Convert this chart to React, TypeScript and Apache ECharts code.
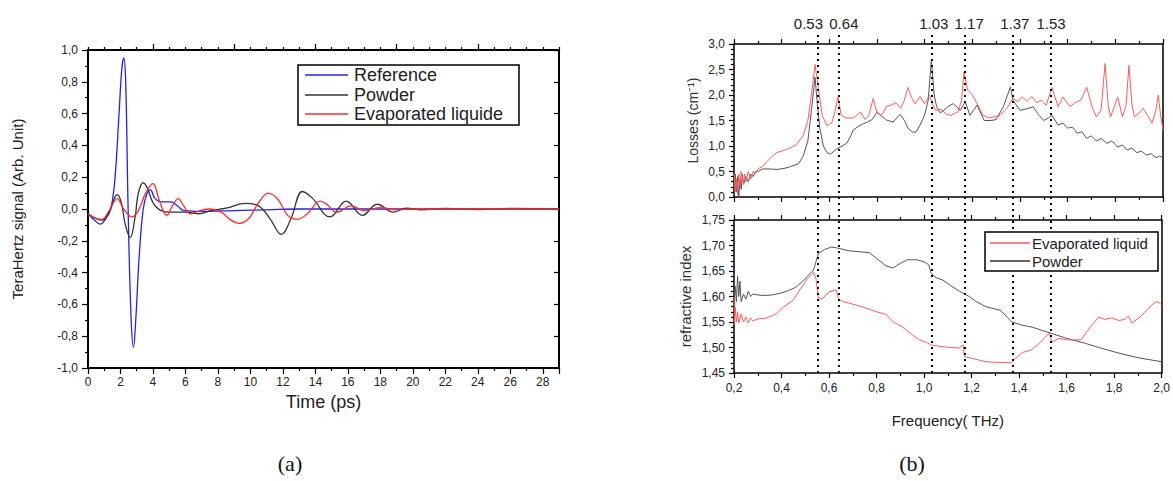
import React, { useEffect, useRef } from 'react';
import * as echarts from 'echarts';

// ---------- (a) time-domain signals: [time ps, amplitude] ----------
const referenceSignal: [number, number][] = [
  [0, -0.03], [0.4, -0.07], [0.75, -0.095], [1.1, -0.06], [1.4, 0.0], [1.65, 0.18], [1.9, 0.58],
  [2.08, 0.88], [2.2, 0.95], [2.32, 0.8], [2.47, 0.0], [2.65, -0.68], [2.8, -0.87], [2.95, -0.68],
  [3.15, -0.3], [3.4, 0.0], [3.65, 0.1], [3.85, 0.12], [4.1, 0.07], [4.5, 0.045], [5.1, 0.045],
  [5.5, 0.02], [5.9, -0.01], [7, -0.015], [9, -0.01], [11, -0.005], [13, 0], [20, 0], [29, 0],
];
const powderSignal: [number, number][] = [
  [0, -0.03], [0.5, -0.06], [0.9, -0.07], [1.3, -0.02], [1.8, 0.09], [2.05, 0.04], [2.3, -0.1],
  [2.6, -0.18], [2.9, -0.05], [3.1, 0.1], [3.4, 0.165], [3.7, 0.12], [4.0, 0.04], [4.5, -0.01],
  [5.2, -0.02], [6.0, -0.02], [6.8, -0.03], [7.6, -0.01], [8.5, 0.005], [9.7, 0.035], [10.5, 0.02],
  [11.2, -0.06], [11.9, -0.16], [12.5, -0.06], [13.2, 0.11], [13.8, 0.07], [14.9, -0.05],
  [15.9, 0.05], [16.9, -0.04], [17.8, 0.03], [18.8, -0.02], [19.6, 0.005], [20.5, -0.005],
  [22, 0.003], [24, -0.003], [26, 0.003], [29, 0],
];
const liquidSignal: [number, number][] = [
  [0, -0.035], [0.4, -0.055], [0.85, -0.065], [1.3, -0.01], [1.8, 0.065], [2.2, 0.0], [2.7, -0.05],
  [3.1, -0.01], [3.55, 0.1], [4.0, 0.16], [4.4, 0.05], [4.85, -0.04], [5.2, 0.02], [5.55, 0.065],
  [5.9, 0.02], [6.3, -0.03], [6.9, -0.01], [7.5, 0.0], [8.2, -0.02], [8.8, -0.07], [9.3, -0.09],
  [9.9, -0.06], [10.5, 0.04], [11.1, 0.1], [11.7, 0.06], [12.3, -0.04], [12.9, -0.065],
  [13.5, -0.03], [14.3, 0.05], [14.7, 0.03], [15.3, -0.02], [16.2, 0.02], [17.0, -0.01],
  [18.0, 0.008], [19.0, -0.005], [20, 0], [29, 0],
];

// ---------- (b) losses: [frequency THz, cm^-1] ----------
const powderLosses: [number, number][] = [
  [0.2, 0.2], [0.205, 0.45], [0.21, 0.1], [0.215, 0.4], [0.22, 0.0], [0.225, 0.35], [0.23, 0.15],
  [0.235, 0.45], [0.24, 0.25], [0.25, 0.4], [0.26, 0.3], [0.27, 0.45], [0.28, 0.4], [0.29, 0.5],
  [0.3, 0.5], [0.32, 0.55], [0.35, 0.55], [0.38, 0.54], [0.41, 0.56], [0.44, 0.6], [0.47, 0.65],
  [0.49, 0.8], [0.51, 1.1], [0.525, 1.7], [0.54, 2.35], [0.55, 1.8], [0.56, 1.35], [0.575, 1.0],
  [0.59, 0.87], [0.605, 0.84], [0.62, 0.9], [0.636, 0.96], [0.655, 1.0], [0.674, 1.06], [0.69, 1.2],
  [0.7, 1.31], [0.72, 1.38], [0.74, 1.43], [0.76, 1.47], [0.78, 1.52], [0.8, 1.67], [0.82, 1.58],
  [0.84, 1.51], [0.867, 1.47], [0.897, 1.62], [0.915, 1.5], [0.93, 1.35], [0.95, 1.27],
  [0.965, 1.28], [0.985, 1.45], [1.0, 1.61], [1.015, 1.9], [1.028, 2.69], [1.04, 2.0], [1.05, 1.77],
  [1.065, 1.65], [1.08, 1.7], [1.1, 1.78], [1.12, 1.83], [1.15, 1.7], [1.17, 1.87], [1.19, 1.6],
  [1.22, 1.8], [1.25, 1.5], [1.28, 1.5], [1.3, 1.52], [1.33, 1.77], [1.36, 2.16], [1.37, 1.9],
  [1.4, 1.7], [1.43, 1.73], [1.455, 1.77], [1.48, 1.6], [1.5, 1.5], [1.52, 1.55], [1.534, 1.6],
  [1.56, 1.41], [1.58, 1.45], [1.6, 1.35], [1.62, 1.37], [1.64, 1.25], [1.66, 1.28], [1.68, 1.15],
  [1.7, 1.2], [1.72, 1.1], [1.74, 1.15], [1.765, 1.05], [1.785, 1.1], [1.81, 0.98], [1.83, 1.02],
  [1.85, 0.92], [1.87, 0.96], [1.89, 0.87], [1.91, 0.9], [1.93, 0.82], [1.95, 0.85], [1.97, 0.77],
  [1.985, 0.8], [2.0, 0.78],
];
const liquidLosses: [number, number][] = [
  [0.2, 0.45], [0.205, 0.1], [0.21, 0.35], [0.215, 0.05], [0.22, 0.45], [0.225, 0.2], [0.23, 0.5],
  [0.24, 0.25], [0.245, 0.45], [0.25, 0.3], [0.26, 0.5], [0.27, 0.35], [0.28, 0.5], [0.29, 0.45],
  [0.3, 0.55], [0.32, 0.6], [0.34, 0.7], [0.36, 0.8], [0.38, 0.87], [0.4, 0.9], [0.43, 0.95],
  [0.46, 1.02], [0.49, 1.2], [0.51, 1.5], [0.525, 2.0], [0.54, 2.6], [0.555, 2.1], [0.57, 1.6],
  [0.59, 1.4], [0.61, 1.45], [0.625, 1.7], [0.636, 1.96], [0.65, 1.6], [0.67, 1.55], [0.7, 1.55],
  [0.72, 1.62], [0.73, 1.67], [0.75, 1.52], [0.765, 1.6], [0.784, 1.93], [0.8, 1.65], [0.82, 1.6],
  [0.84, 1.78], [0.86, 1.8], [0.88, 1.85], [0.9, 1.74], [0.915, 1.9], [0.93, 2.15], [0.945, 1.95],
  [0.96, 1.83], [0.98, 1.97], [1.0, 1.83], [1.02, 2.0], [1.03, 1.85], [1.045, 1.7], [1.07, 1.72],
  [1.09, 1.62], [1.11, 1.6], [1.14, 1.67], [1.155, 1.9], [1.165, 2.45], [1.18, 2.1], [1.2, 2.0],
  [1.22, 1.83], [1.245, 1.6], [1.27, 1.55], [1.29, 1.57], [1.316, 1.6], [1.335, 1.7], [1.35, 1.77],
  [1.37, 1.94], [1.39, 1.87], [1.41, 1.96], [1.43, 1.88], [1.45, 1.97], [1.47, 1.85], [1.49, 1.9],
  [1.51, 1.8], [1.534, 2.15], [1.56, 1.77], [1.58, 1.96], [1.61, 1.77], [1.63, 1.85], [1.655, 1.9],
  [1.68, 2.15], [1.7, 1.8], [1.72, 1.57], [1.74, 1.7], [1.757, 2.62], [1.77, 1.8], [1.78, 1.57],
  [1.81, 1.96], [1.83, 1.57], [1.845, 1.8], [1.857, 2.58], [1.87, 1.8], [1.88, 1.57], [1.9, 1.65],
  [1.916, 1.74], [1.935, 1.6], [1.954, 1.45], [1.97, 1.7], [1.98, 2.0], [1.99, 1.6], [2.0, 1.31],
];

// ---------- (b) refractive index: [frequency THz, n] ----------
const powderIndex: [number, number][] = [
  [0.2, 1.6], [0.205, 1.62], [0.21, 1.59], [0.215, 1.64], [0.22, 1.6], [0.225, 1.63], [0.23, 1.59],
  [0.24, 1.605], [0.25, 1.595], [0.26, 1.61], [0.27, 1.6], [0.28, 1.605], [0.3, 1.603], [0.33, 1.602],
  [0.36, 1.603], [0.4, 1.607], [0.43, 1.612], [0.46, 1.618], [0.49, 1.63], [0.52, 1.645],
  [0.535, 1.652], [0.545, 1.668], [0.555, 1.684], [0.58, 1.692], [0.61, 1.697], [0.636, 1.695],
  [0.68, 1.69], [0.72, 1.688], [0.77, 1.686], [0.8, 1.675], [0.84, 1.66], [0.87, 1.656], [0.9, 1.665],
  [0.93, 1.672], [0.97, 1.672], [1.0, 1.668], [1.02, 1.662], [1.03, 1.645], [1.05, 1.637],
  [1.08, 1.632], [1.11, 1.622], [1.15, 1.61], [1.19, 1.6], [1.22, 1.59], [1.26, 1.58], [1.32, 1.573],
  [1.35, 1.56], [1.37, 1.55], [1.41, 1.544], [1.455, 1.54], [1.5, 1.533], [1.534, 1.528],
  [1.6, 1.518], [1.68, 1.508], [1.75, 1.498], [1.82, 1.489], [1.9, 1.48], [2.0, 1.472],
];
const liquidIndex: [number, number][] = [
  [0.2, 1.6], [0.202, 1.545], [0.205, 1.58], [0.21, 1.55], [0.215, 1.57], [0.22, 1.548], [0.23, 1.565],
  [0.24, 1.55], [0.25, 1.56], [0.26, 1.548], [0.27, 1.558], [0.28, 1.552], [0.3, 1.556], [0.33, 1.557],
  [0.36, 1.562], [0.38, 1.567], [0.41, 1.58], [0.45, 1.593], [0.48, 1.615], [0.51, 1.635],
  [0.535, 1.647], [0.545, 1.635], [0.555, 1.597], [0.57, 1.595], [0.6, 1.609], [0.63, 1.613],
  [0.64, 1.595], [0.66, 1.59], [0.7, 1.585], [0.73, 1.581], [0.77, 1.575], [0.8, 1.57], [0.84, 1.565],
  [0.87, 1.55], [0.91, 1.54], [0.95, 1.525], [0.98, 1.515], [1.01, 1.51], [1.03, 1.505],
  [1.07, 1.502], [1.11, 1.5], [1.148, 1.499], [1.165, 1.505], [1.17, 1.482], [1.2, 1.479],
  [1.26, 1.472], [1.31, 1.471], [1.366, 1.47], [1.38, 1.477], [1.413, 1.49], [1.45, 1.495],
  [1.484, 1.508], [1.51, 1.52], [1.526, 1.528], [1.54, 1.511], [1.568, 1.518], [1.6, 1.515],
  [1.66, 1.515], [1.7, 1.54], [1.735, 1.56], [1.76, 1.555], [1.79, 1.558], [1.82, 1.553],
  [1.845, 1.555], [1.86, 1.562], [1.875, 1.548], [1.91, 1.56], [1.94, 1.575], [1.975, 1.59],
  [1.99, 1.588], [2.0, 1.583],
];

// ---------- vertical markers ----------
const markerPositions = [0.545, 0.636, 1.027, 1.165, 1.37, 1.534];
const markerLabels = ['0.53', '0.64', '1.03', '1.17', '1.37', '1.53'];
const markerLabelShift = [-9, 5, 2, 4, 2, 0];
const timeTopMajorTicks = [4, 9, 14, 19, 24];

const FONT = '"Liberation Sans", Arial, sans-serif';
const TXT = '#222';
const comma = (v: number, d: number) => v.toFixed(d).replace('.', ',');

const lineAx = (w: number) => ({ show: true, onZero: false, lineStyle: { color: '#000', width: w } });
const tickSt = { color: '#000', width: 1.2 };

export default function App() {
  const ref = useRef<HTMLDivElement>(null);
  useEffect(() => {
    if (!ref.current) return;
    const chart = echarts.init(ref.current, undefined, { renderer: 'svg' });
    const freqAxis = (grid: number, position: string, labels: boolean) => ({
      gridIndex: grid, type: 'value', position, min: 0.2, max: 2.0, interval: 0.2,
      axisLine: lineAx(1.5),
      axisTick: { show: true, length: 5, lineStyle: tickSt },
      minorTick: { show: true, splitNumber: 2, length: 3, lineStyle: tickSt },
      splitLine: { show: false }, minorSplitLine: { show: false },
      axisLabel: labels
        ? { show: true, fontSize: 12, color: TXT, fontFamily: FONT, margin: 9, formatter: (v: number) => comma(v, 1) }
        : { show: false },
    });
    const option: any = {
      animation: false,
      backgroundColor: '#fff',
      textStyle: { fontFamily: FONT },
      grid: [
        { left: 88, top: 50, width: 471, height: 318 },
        { left: 734, top: 44, width: 429, height: 153 },
        { left: 734, top: 220, width: 429, height: 153 },
        { left: 734, top: 35, width: 429, height: 338 },
      ],
      xAxis: [
        {
          gridIndex: 0, type: 'value', position: 'bottom', min: 0, max: 29, interval: 2,
          axisLine: lineAx(2),
          axisTick: { show: true, length: 6, lineStyle: tickSt },
          minorTick: { show: true, splitNumber: 2, length: 3, lineStyle: tickSt },
          splitLine: { show: false }, minorSplitLine: { show: false },
          axisLabel: { fontSize: 12, color: TXT, margin: 8, formatter: (v: number) => (v % 2 === 0 ? String(v) : '') },
          name: 'Time (ps)', nameLocation: 'middle', nameGap: 24,
          nameTextStyle: { fontSize: 18, color: TXT },
        },
        {
          gridIndex: 0, type: 'value', position: 'top', min: 0, max: 29, interval: 1,
          axisLine: lineAx(2),
          axisTick: { show: true, length: 3, lineStyle: tickSt },
          axisLabel: { show: false }, splitLine: { show: false },
        },
        {
          gridIndex: 0, type: 'value', position: 'top', min: 0, max: 29,
          axisLine: { show: false, onZero: false },
          axisTick: { show: true, length: 6, customValues: timeTopMajorTicks, lineStyle: tickSt },
          axisLabel: { show: false }, splitLine: { show: false },
        },
        freqAxis(1, 'bottom', false),
        freqAxis(1, 'top', false),
        {
          ...freqAxis(2, 'bottom', true),
          name: 'Frequency( THz)', nameLocation: 'middle', nameGap: 40,
          nameTextStyle: { fontSize: 15, color: TXT },
        },
        freqAxis(2, 'top', false),
        { gridIndex: 3, type: 'value', min: 0.2, max: 2.0, show: false },
      ],
      yAxis: [
        {
          gridIndex: 0, type: 'value', position: 'left', min: -1, max: 1, interval: 0.2,
          axisLine: lineAx(2),
          axisTick: { show: true, length: 6, lineStyle: tickSt },
          minorTick: { show: true, splitNumber: 2, length: 3, lineStyle: tickSt },
          splitLine: { show: false }, minorSplitLine: { show: false },
          axisLabel: { fontSize: 12, color: TXT, margin: 10, formatter: (v: number) => comma(v, 1) },
          name: 'TeraHertz signal (Arb. Unit)', nameLocation: 'middle', nameGap: 63,
          nameTextStyle: { fontSize: 15, color: TXT },
        },
        {
          gridIndex: 0, type: 'value', position: 'right', min: -1, max: 1, interval: 0.2,
          axisLine: lineAx(2),
          axisTick: { show: true, inside: true, length: 5, lineStyle: tickSt },
          axisLabel: { show: false }, splitLine: { show: false },
        },
        {
          gridIndex: 1, type: 'value', position: 'left', min: 0, max: 3, interval: 0.5,
          axisLine: lineAx(1.5),
          axisTick: { show: true, length: 5, lineStyle: tickSt },
          minorTick: { show: true, splitNumber: 5, length: 3, lineStyle: tickSt },
          splitLine: { show: false }, minorSplitLine: { show: false },
          axisLabel: { fontSize: 12, color: TXT, margin: 9, formatter: (v: number) => comma(v, 1) },
          name: 'Losses (cm\u207B\u00B9)', nameLocation: 'middle', nameGap: 34,
          nameTextStyle: { fontSize: 14, color: '#333' },
        },
        {
          gridIndex: 1, type: 'value', position: 'right', min: 0, max: 3,
          axisLine: lineAx(1.5), axisTick: { show: false }, axisLabel: { show: false }, splitLine: { show: false },
        },
        {
          gridIndex: 2, type: 'value', position: 'left', min: 1.45, max: 1.75, interval: 0.05,
          axisLine: lineAx(1.5),
          axisTick: { show: true, length: 5, lineStyle: tickSt },
          minorTick: { show: true, splitNumber: 5, length: 3, lineStyle: tickSt },
          splitLine: { show: false }, minorSplitLine: { show: false },
          axisLabel: { fontSize: 12, color: TXT, margin: 9, formatter: (v: number) => comma(v, 2) },
          name: 'refractive index', nameLocation: 'middle', nameGap: 41,
          nameTextStyle: { fontSize: 15, color: '#333' },
        },
        {
          gridIndex: 2, type: 'value', position: 'right', min: 1.45, max: 1.75,
          axisLine: lineAx(1.5), axisTick: { show: false }, axisLabel: { show: false }, splitLine: { show: false },
        },
        { gridIndex: 3, type: 'value', min: 0, max: 1, show: false },
      ],
      series: [
        { name: 'Reference', type: 'line', xAxisIndex: 0, yAxisIndex: 0, data: referenceSignal, smooth: 0.4, symbol: 'none', lineStyle: { color: '#2020ff', width: 1.3 } },
        { name: 'Powder', type: 'line', xAxisIndex: 0, yAxisIndex: 0, data: powderSignal, smooth: 0.4, symbol: 'none', lineStyle: { color: '#333', width: 1.3 } },
        { name: 'Evaporated liquide', type: 'line', xAxisIndex: 0, yAxisIndex: 0, data: liquidSignal, smooth: 0.4, symbol: 'none', lineStyle: { color: '#ff2a2a', width: 1.3 } },
        { name: 'Powder losses', type: 'line', xAxisIndex: 3, yAxisIndex: 2, data: powderLosses, symbol: 'none', lineStyle: { color: '#555', width: 1 } },
        { name: 'Evaporated liquid losses', type: 'line', xAxisIndex: 3, yAxisIndex: 2, data: liquidLosses, symbol: 'none', lineStyle: { color: '#ff5a5a', width: 1 } },
        { name: 'Powder index', type: 'line', xAxisIndex: 5, yAxisIndex: 4, data: powderIndex, symbol: 'none', lineStyle: { color: '#555', width: 1 } },
        { name: 'Evaporated liquid index', type: 'line', xAxisIndex: 5, yAxisIndex: 4, data: liquidIndex, symbol: 'none', lineStyle: { color: '#ff5a5a', width: 1 } },
        {
          name: 'markers', type: 'line', xAxisIndex: 7, yAxisIndex: 6, data: [], symbol: 'none',
          markLine: {
            silent: true, symbol: 'none',
            lineStyle: { color: '#000', width: 2, type: [2, 4] },
            label: { show: true, position: 'end', formatter: '{b}', fontSize: 15, color: TXT, distance: 4 },
            data: markerPositions.map((v, i) => ({
              xAxis: v, name: markerLabels[i], label: { offset: [markerLabelShift[i], 0] },
            })),
          },
        },
      ],
      graphic: [
        // left legend
        { type: 'rect', shape: { x: 298, y: 65, width: 221, height: 60 }, style: { fill: '#fff', stroke: '#000', lineWidth: 1.5 }, z: 10 },
        { type: 'line', shape: { x1: 305, y1: 75, x2: 348, y2: 75 }, style: { stroke: '#2020ff', lineWidth: 1.5 }, z: 11 },
        { type: 'line', shape: { x1: 305, y1: 95, x2: 348, y2: 95 }, style: { stroke: '#333', lineWidth: 1.5 }, z: 11 },
        { type: 'line', shape: { x1: 305, y1: 114, x2: 348, y2: 114 }, style: { stroke: '#ff2a2a', lineWidth: 1.5 }, z: 11 },
        { type: 'text', x: 354, y: 75, style: { text: 'Reference', fill: TXT, font: `18px ${FONT}`, textVerticalAlign: 'middle' }, z: 11 },
        { type: 'text', x: 354, y: 95, style: { text: 'Powder', fill: TXT, font: `18px ${FONT}`, textVerticalAlign: 'middle' }, z: 11 },
        { type: 'text', x: 354, y: 114, style: { text: 'Evaporated liquide', fill: TXT, font: `18px ${FONT}`, textVerticalAlign: 'middle' }, z: 11 },
        // right legend
        { type: 'rect', shape: { x: 985, y: 232, width: 173, height: 39 }, style: { fill: '#fff', stroke: '#000', lineWidth: 1.5 }, z: 10 },
        { type: 'line', shape: { x1: 990, y1: 243, x2: 1030, y2: 243 }, style: { stroke: '#ff5a5a', lineWidth: 1.5 }, z: 11 },
        { type: 'line', shape: { x1: 990, y1: 261, x2: 1030, y2: 261 }, style: { stroke: '#333', lineWidth: 1.5 }, z: 11 },
        { type: 'text', x: 1032, y: 243, style: { text: 'Evaporated liquid', fill: TXT, font: `15px ${FONT}`, textVerticalAlign: 'middle' }, z: 11 },
        { type: 'text', x: 1032, y: 261, style: { text: 'Powder', fill: TXT, font: `15px ${FONT}`, textVerticalAlign: 'middle' }, z: 11 },
        // panel captions
        { type: 'text', x: 290, y: 463, style: { text: '(a)', fill: '#111', font: `22px "Liberation Serif", "DejaVu Serif", serif`, textAlign: 'center', textVerticalAlign: 'middle' } },
        { type: 'text', x: 912, y: 463, style: { text: '(b)', fill: '#111', font: `22px "Liberation Serif", "DejaVu Serif", serif`, textAlign: 'center', textVerticalAlign: 'middle' } },
      ],
    };
    chart.setOption(option);
    return () => chart.dispose();
  }, []);
  return (
    <div
      ref={ref}
      style={{ position: 'fixed', left: 0, top: 0, width: 1173, height: 481, background: '#fff' }}
    />
  );
}
